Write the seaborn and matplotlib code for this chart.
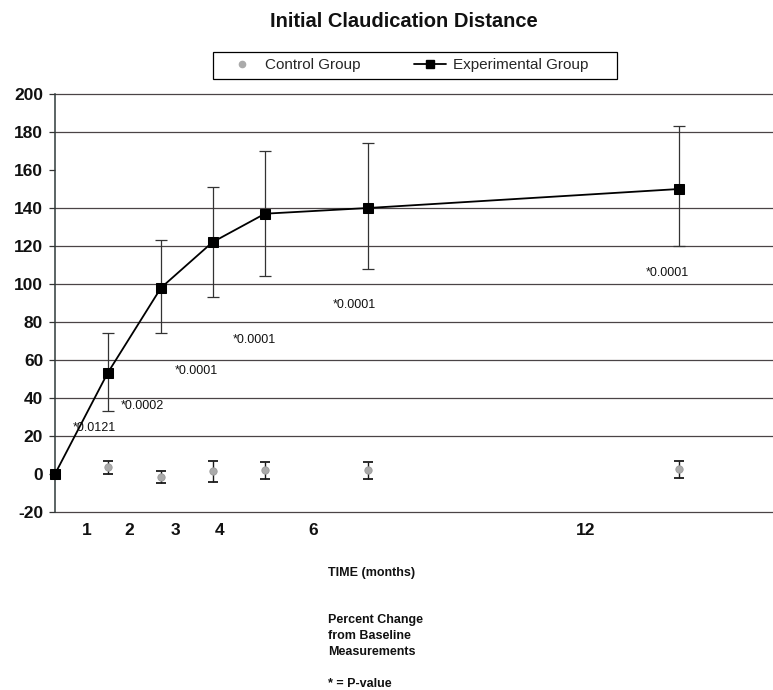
import matplotlib
matplotlib.use('Agg')
import matplotlib.pyplot as plt
import seaborn as sns
import pandas as pd
from matplotlib.lines import Line2D
from matplotlib.patches import Rectangle

sns.set_theme(style='white')
plt.rcParams['font.family'] = ['Liberation Sans', 'DejaVu Sans']
plt.rcParams['axes.unicode_minus'] = False

# ---- data ----
months = ['0', '1', '2', '3', '4', '6', '12']
x_pos = [0, 52.5, 106, 157.5, 210, 313, 624]          # horizontal placement of the measurements
exp_mean = [0, 53, 98, 122, 137, 140, 150]
exp_low = [0, 33, 74, 93, 104, 108, 120]
exp_high = [0, 74, 123, 151, 170, 174, 183]

ctrl_x = x_pos[1:]
ctrl_mean = [3.5, -1.5, 1.5, 2, 2, 2.5]
ctrl_err = [3.5, 3, 5.5, 4.5, 4.5, 4.5]

tick_pos = [32, 74, 120, 165, 258, 531]
tick_labels = ['1', '2', '3', '4', '6', '12']
y_ticks = list(range(-20, 201, 20))
grid_levels = [-20, 20, 40, 60, 80, 100, 120, 140, 180, 200]

p_values = ['*0.0121', '*0.0002', '*0.0001', '*0.0001', '*0.0001', '*0.0001']
p_x = [39.5, 87, 141.5, 199, 299, 612.5]
p_y = [24, 36, 54, 70.5, 89, 106]

exp_df = pd.DataFrame({'x': x_pos, 'mean': exp_mean, 'month': months})
ctrl_df = pd.DataFrame({'x': ctrl_x, 'mean': ctrl_mean})

# ---- figure ----
W, H = 773, 690
fig = plt.figure(figsize=(7.73, 6.9), dpi=100)
ax = fig.add_axes([55 / W, 1 - 512 / H, 718 / W, 418 / H])

grid_color = '#4a4446'
for g in grid_levels:
    ax.axhline(g, color=grid_color, lw=0.9, zorder=0, clip_on=False)

# error bars
lo = [m - l for m, l in zip(exp_mean[1:], exp_low[1:])]
hi = [h - m for m, h in zip(exp_mean[1:], exp_high[1:])]
ax.errorbar(x_pos[1:], exp_mean[1:], yerr=[lo, hi], fmt='none', ecolor='#333333',
            elinewidth=0.9, capsize=4, capthick=0.9, zorder=2)
ax.errorbar(ctrl_x, ctrl_mean, yerr=ctrl_err, fmt='none', ecolor='#1a1a1a',
            elinewidth=1.0, capsize=3.5, capthick=1.3, zorder=2)

sns.lineplot(data=exp_df, x='x', y='mean', marker='s', color='black', markersize=6.5,
             markeredgecolor='black', lw=1.3, ax=ax, sort=False, legend=False,
             clip_on=False, zorder=4)
sns.scatterplot(data=ctrl_df, x='x', y='mean', color='#aaaaaa', s=28, edgecolor='#9a9a9a',
                linewidth=0.6, ax=ax, legend=False, zorder=3)

for txt, px, py in zip(p_values, p_x, p_y):
    ax.text(px, py, txt, ha='center', va='center', fontsize=9, color='#111111')

ax.set_xlim(0, 718)
ax.set_ylim(-20, 200)
ax.set_yticks(y_ticks)
ax.set_xticks(tick_pos)
ax.set_xticklabels(tick_labels)
ax.set_xlabel('')
ax.set_ylabel('')
ax.grid(False)
for s in ['top', 'right', 'bottom']:
    ax.spines[s].set_visible(False)
ax.spines['left'].set_color('#2f3a3a')
ax.spines['left'].set_linewidth(1.1)
ax.tick_params(axis='y', left=True, direction='out', length=4.5, width=0.9,
               color='#333333', pad=4, labelsize=12.5)
ax.tick_params(axis='x', bottom=False, length=0, pad=8, labelsize=12.5)
for lab in ax.get_yticklabels() + ax.get_xticklabels():
    lab.set_fontweight('bold')
    lab.set_color('#111111')

# title
fig.text(403.5 / W, 1 - 21.7 / H, 'Initial Claudication Distance', ha='center',
         va='center', fontsize=14.5, fontweight='bold', color='#111111')

# legend (frame drawn separately so its padding can match the reference)
fig.patches.append(Rectangle((213 / W, 1 - 79 / H), 404 / W, 27 / H,
                             transform=fig.transFigure, fill=False,
                             edgecolor='black', lw=0.9))
handles = [Line2D([], [], marker='o', ls='none', color='#aaaaaa', markersize=4.5),
           Line2D([], [], marker='s', color='black', markersize=5.5, lw=1.3)]
leg = fig.legend(handles, ['Control Group', 'Experimental Group'], loc='center',
                 bbox_to_anchor=(407 / W, 1 - 65.5 / H), ncol=2, frameon=False,
                 fontsize=11, handlelength=2.1, handletextpad=0.45, columnspacing=3.5,
                 borderpad=0.0)

# notes below the chart
fig.text(328 / W, 1 - 572.7 / H, 'TIME (months)', ha='left', va='center',
         fontsize=9, fontweight='bold', color='#111111')
for i, line in enumerate(['Percent Change', 'from Baseline', 'Measurements']):
    fig.text(328 / W, 1 - (620 + 16 * i) / H, line, ha='left', va='center',
             fontsize=9, fontweight='bold', color='#111111')
fig.text(328 / W, 1 - 684 / H, '* = P-value', ha='left', va='center',
         fontsize=9, fontweight='bold', color='#111111')

fig.savefig('out.png', dpi=100)
